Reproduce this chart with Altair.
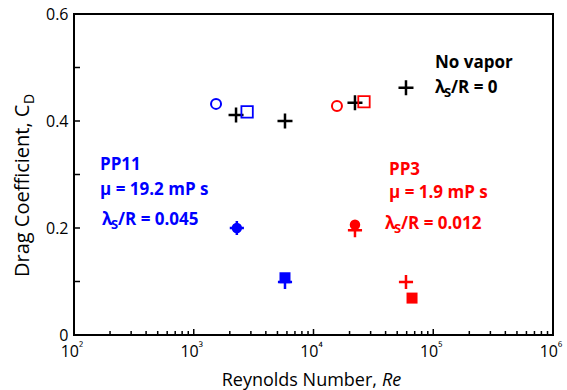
import altair as alt
import pandas as pd

# ---------------- data ----------------
# No vapor (black plus)
nv_re = [2255, 5780, 22200, 59200]
nv_cd = [0.411, 0.400, 0.434, 0.462]

# PP11 (blue)
pp11_oc_re = [1535]; pp11_oc_cd = [0.432]          # open circle
pp11_os_re = [2790]; pp11_os_cd = [0.417]          # open square
pp11_plus_re = [2290, 5780]; pp11_plus_cd = [0.200, 0.099]
pp11_fc_re = [2290]; pp11_fc_cd = [0.200]          # filled circle
pp11_fs_re = [5780]; pp11_fs_cd = [0.107]          # filled square

# PP3 (red)
pp3_oc_re = [15700]; pp3_oc_cd = [0.428]
pp3_os_re = [26400]; pp3_os_cd = [0.436]
pp3_plus_re = [22200, 59200]; pp3_plus_cd = [0.196, 0.099]
pp3_fc_re = [22200]; pp3_fc_cd = [0.206]
pp3_fs_re = [66500]; pp3_fs_cd = [0.069]

decades = [100, 1000, 10000, 100000, 1000000]
decade_exps = ["²", "³", "⁴", "⁵", "⁶"]
x_minor = [m * 10 ** e for e in range(2, 6) for m in range(2, 10)]
y_ticks = [0.1, 0.2, 0.3, 0.4, 0.5]
y_label_values = [0, 0.2, 0.4, 0.6]

# ---------------- style ----------------
W, H = 479, 321
FONT = "Open Sans"
BLUE = "#0000FF"
RED = "#FF0000"
BLACK = "#000000"
PLUS = "M-1,0L1,0M0,-1L0,1"

xscale = alt.Scale(type="log", domain=[100, 1e6], nice=False)
yscale = alt.Scale(domain=[0, 0.6], nice=False, zero=True)
yaxis = alt.Axis(values=y_label_values,
                 labelExpr="datum.value == 0 ? '0' : format(datum.value, '.1f')",
                 ticks=False, tickSize=0, domain=False, grid=False,
                 labelFont=FONT, labelFontSize=16, labelColor=BLACK,
                 labelPadding=6, title=None)


def X():
    return alt.X("x:Q", scale=xscale, axis=None)


def Y():
    return alt.Y("y:Q", scale=yscale, axis=yaxis)


def pts(re, cd, shape, color, size, filled, sw=2.0):
    df = pd.DataFrame({"x": re, "y": cd})
    if filled:
        m = alt.Chart(df).mark_point(shape=shape, size=size, filled=True,
                                     fill=color, strokeWidth=0, opacity=1)
    else:
        m = alt.Chart(df).mark_point(shape=shape, size=size, filled=False,
                                     stroke=color, strokeWidth=sw, opacity=1)
    return m.encode(x=X(), y=Y())


layers = []

# inward ticks
layers.append(alt.Chart(pd.DataFrame({"x": x_minor})).mark_rule(color=BLACK, strokeWidth=1.5)
              .encode(x=X(), y=alt.value(H), y2=alt.value(H - 4)))
layers.append(alt.Chart(pd.DataFrame({"x": decades})).mark_rule(color=BLACK, strokeWidth=1.5)
              .encode(x=X(), y=alt.value(H), y2=alt.value(H - 6)))
layers.append(alt.Chart(pd.DataFrame({"y": y_ticks})).mark_rule(color=BLACK, strokeWidth=1.5)
              .encode(y=Y(), x=alt.value(0), x2=alt.value(6)))

# x tick labels 10^n
lab_df = pd.DataFrame({"x": decades, "e": decade_exps})
layers.append(alt.Chart(lab_df).mark_text(text="10", font=FONT, fontSize=16, align="right",
                                         baseline="alphabetic", dx=5, color=BLACK)
              .encode(x=X(), y=alt.value(H + 22)))
layers.append(alt.Chart(lab_df).mark_text(font=FONT, fontSize=12, align="left",
                                         baseline="alphabetic", dx=5, color=BLACK)
              .encode(x=X(), y=alt.value(H + 17), text="e:N"))

# markers
layers += [
    pts(nv_re, nv_cd, PLUS, BLACK, 225, False, 2.5),
    pts(pp11_oc_re, pp11_oc_cd, "circle", BLUE, 100, False, 2),
    pts(pp11_os_re, pp11_os_cd, "square", BLUE, 130, False, 1.8),
    pts(pp11_plus_re, pp11_plus_cd, PLUS, BLUE, 200, False, 2.5),
    pts(pp11_fc_re, pp11_fc_cd, "circle", BLUE, 110, True),
    pts(pp11_fs_re, pp11_fs_cd, "square", BLUE, 121, True),
    pts(pp3_oc_re, pp3_oc_cd, "circle", RED, 100, False, 2),
    pts(pp3_os_re, pp3_os_cd, "square", RED, 130, False, 1.8),
    pts(pp3_plus_re, pp3_plus_cd, PLUS, RED, 200, False, 2.5),
    pts(pp3_fc_re, pp3_fc_cd, "circle", RED, 110, True),
    pts(pp3_fs_re, pp3_fs_cd, "square", RED, 121, True),
]


def txt(s, x, y, color=BLACK, size=17, weight="bold", align="left", style="normal", angle=0):
    return (alt.Chart(pd.DataFrame({"t": [s]}))
            .mark_text(text=s, font=FONT, fontSize=size, fontWeight=weight, color=color,
                       align=align, baseline="alphabetic", fontStyle=style, angle=angle)
            .encode(x=alt.value(x), y=alt.value(y)))


def lam_line(x, y, rest, color):
    return [txt("λ", x, y, color), txt("S", x + 9, y + 4, color, size=13),
            txt(rest, x + 16, y, color)]


# annotations
layers += [txt("No vapor", 361, 54)] + lam_line(361, 79, "/R = 0", BLACK)
layers += [txt("PP11", 26, 156, BLUE), txt("μ = 19.2 mP s", 26, 181, BLUE)] + lam_line(28, 211, "/R = 0.045", BLUE)
layers += [txt("PP3", 315, 161, RED), txt("μ = 1.9 mP s", 315, 184, RED)] + lam_line(311, 215, "/R = 0.012", RED)

# axis titles
layers += [
    txt("Reynolds Number,", 303, 372, BLACK, 18, "normal", "right"),
    txt("Re", 308, 372, BLACK, 18, "normal", "left", "italic"),
    txt("Drag Coefficient, C", -45, 263, BLACK, 20, "normal", "left", angle=270),
    txt("D", -40, 90, BLACK, 14, "normal", "left", angle=270),
]

chart = (alt.layer(*layers)
         .properties(width=W, height=H,
                     autosize=alt.AutoSizeParams(type="none"),
                     padding={"left": 74, "top": 14, "right": 14, "bottom": 55},
                     background="white")
         .configure_view(stroke=BLACK, strokeWidth=2))

chart.save("out.html", embed_options={"renderer": "svg", "actions": False})
